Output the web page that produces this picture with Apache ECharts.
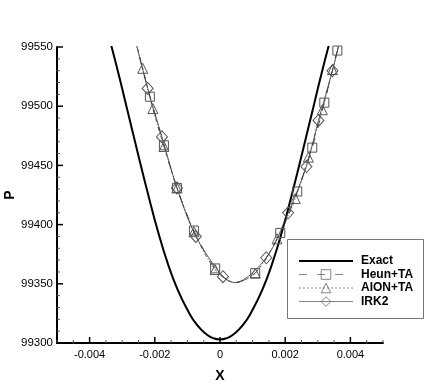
<!DOCTYPE html>
<html>
<head>
<meta charset="utf-8">
<script src="https://cdn.jsdelivr.net/npm/echarts@6/dist/echarts.min.js"></script>
<style>
  html, body { margin: 0; padding: 0; background: #fff; }
  #chart { width: 436px; height: 388px; }
</style>
</head>
<body>
<div id="chart"></div>
<script>
// exact solution
const exactX = [-0.0034, -0.0031, -0.0028, -0.0025, -0.0022, -0.0019, -0.0016, -0.0013, -0.0010, -0.0007, -0.0004, -0.0002, 0,
  0.0002, 0.0004, 0.0007, 0.0010, 0.0013, 0.0016, 0.0019, 0.0022, 0.0025, 0.0028, 0.0031, 0.0034];
const exactP = [99558, 99526, 99492, 99458, 99425, 99394, 99367, 99345, 99328, 99315, 99307, 99304, 99303,
  99304, 99307, 99315, 99328, 99345, 99367, 99394, 99425, 99458, 99492, 99526, 99558];

// Heun+TA (squares)
const heunX = [-0.00215, -0.00172, -0.00132, -0.0008, -0.00015, 0.00108, 0.00185, 0.00237, 0.00283, 0.0032, 0.0036];
const heunP = [99508, 99467, 99431, 99395, 99363, 99359, 99393, 99428, 99465, 99503, 99547];

// AION+TA (triangles)
const aionX = [-0.00237, -0.00206, -0.00172, -0.00132, -0.0008, -0.00015, 0.00108, 0.00175, 0.00231, 0.00271, 0.00314, 0.00345];
const aionP = [99532, 99498, 99466, 99431, 99394, 99362, 99359, 99388, 99422, 99457, 99497, 99531];

// IRK2 (diamonds)
const irkX = [-0.00222, -0.00178, -0.00132, -0.00074, 0.00009, 0.00142, 0.00209, 0.00265, 0.00302, 0.00345];
const irkP = [99515, 99474, 99431, 99390, 99356, 99372, 99410, 99449, 99488, 99530];

// points of the numerical curves without a marker (ends + bottom)
const curveX = [-0.0026, 0.00045, 0.0037];
const curveP = [99556, 99351, 99558];

// axis ticks
const xTicks = [-0.004, -0.002, 0, 0.002, 0.004];
const yTicks = [99300, 99350, 99400, 99450, 99500, 99550];
const xMin = -0.005, xMax = 0.005, yMin = 99300, yMax = 99550;

function numData(xs, ps) {
  const pts = xs.map((x, i) => ({ value: [x, ps[i]] }));
  curveX.forEach((x, i) => pts.push({ value: [x, curveP[i]], symbol: 'none' }));
  pts.sort((a, b) => a.value[0] - b.value[0]);
  return pts;
}

// tick marks drawn inward: [x, y, length, vertical?]
const tickData = [];
for (let i = 0; i <= 20; i++) {
  const x = +(xMin + i * 0.0005).toFixed(4);
  tickData.push([x, yMin, xTicks.includes(x) ? 6 : 3, 1]);
}
for (let i = 0; i <= 25; i++) {
  const y = yMin + i * 10;
  tickData.push([xMin, y, yTicks.includes(y) ? 6 : 3, 0]);
}

const font = 'Liberation Sans';
const markStyle = { color: 'rgba(0,0,0,0)', borderColor: '#555', borderWidth: 1 };
const legendMark = { color: 'rgba(0,0,0,0)', borderColor: '#666', borderWidth: 0.8 };
const thin = { color: '#333', width: 0.8 };

const chart = echarts.init(document.getElementById('chart'));
chart.setOption({
  animation: false,
  grid: { left: 57, right: 53, top: 47, bottom: 45 },
  xAxis: {
    type: 'value',
    min: xMin,
    max: xMax,
    splitLine: { show: false },
    axisLine: { show: true, onZero: false, lineStyle: { color: '#000', width: 2 } },
    axisTick: { show: false },
    axisLabel: {
      customValues: xTicks,
      margin: 6,
      color: '#000',
      fontFamily: font,
      fontSize: 11,
      formatter: v => v === 0 ? '0' : v.toFixed(3)
    }
  },
  yAxis: {
    type: 'value',
    min: yMin,
    max: yMax,
    interval: 50,
    splitLine: { show: false },
    axisLine: { show: true, onZero: false, lineStyle: { color: '#000', width: 2 } },
    axisTick: { show: false },
    axisLabel: { margin: 4, color: '#000', fontFamily: font, fontSize: 11.5, formatter: v => String(v) }
  },
  legend: {
    orient: 'vertical',
    left: 298,
    top: 255,
    padding: 0,
    itemWidth: 54,
    itemHeight: 12,
    itemGap: 1.5,
    selectedMode: false,
    textStyle: { fontFamily: font, fontSize: 12, fontWeight: 'bold', color: '#000', padding: [0, 0, 0, 3] },
    data: [
      { name: 'Exact', itemStyle: { color: 'rgba(0,0,0,0)', borderColor: 'rgba(0,0,0,0)', borderWidth: 0 },
        lineStyle: { color: '#000', width: 2 } },
      { name: 'Heun+TA', itemStyle: legendMark, lineStyle: { color: '#666', width: 0.8, type: [8, 10] } },
      { name: 'AION+TA', itemStyle: legendMark, lineStyle: { color: '#666', width: 0.8, type: [2, 2] } },
      { name: 'IRK2', itemStyle: legendMark, lineStyle: { color: '#666', width: 0.8 } }
    ]
  },
  graphic: [
    { type: 'rect', z: 3, shape: { x: 287.5, y: 239.5, width: 136, height: 79 },
      style: { fill: '#fff', stroke: '#777', lineWidth: 1 } },
    { type: 'text', x: 220, y: 376, style: { text: 'X', font: 'bold 14px ' + font, fill: '#000', textAlign: 'center', textVerticalAlign: 'middle' } },
    { type: 'text', x: 10, y: 195, rotation: Math.PI / 2, style: { text: 'P', font: 'bold 14px ' + font, fill: '#000', textAlign: 'center', textVerticalAlign: 'middle' } }
  ],
  series: [
    {
      name: 'Exact',
      type: 'line',
      smooth: true,
      symbol: 'none',
      color: '#000',
      lineStyle: { color: '#000', width: 2 },
      emphasis: { disabled: true },
      data: exactX.map((x, i) => [x, exactP[i]])
    },
    {
      name: 'Heun+TA',
      type: 'line',
      smooth: 0.3,
      symbol: 'rect',
      symbolSize: 9,
      itemStyle: markStyle,
      lineStyle: Object.assign({ type: [8, 10] }, thin),
      emphasis: { disabled: true },
      data: numData(heunX, heunP)
    },
    {
      name: 'AION+TA',
      type: 'line',
      smooth: 0.3,
      symbol: 'triangle',
      symbolSize: 10,
      itemStyle: markStyle,
      lineStyle: Object.assign({ type: [4, 2, 1, 2] }, thin),
      emphasis: { disabled: true },
      data: numData(aionX, aionP)
    },
    {
      name: 'IRK2',
      type: 'line',
      smooth: 0.3,
      symbol: 'diamond',
      symbolSize: [11, 12],
      itemStyle: markStyle,
      lineStyle: thin,
      emphasis: { disabled: true },
      data: numData(irkX, irkP)
    },
    {
      // inward axis ticks
      type: 'custom',
      silent: true,
      z: 5,
      clip: false,
      data: tickData,
      renderItem: (params, api) => {
        const p = api.coord([api.value(0), api.value(1)]);
        const len = api.value(2);
        const vert = api.value(3) === 1;
        const major = len > 3;
        return {
          type: 'line',
          shape: vert
            ? { x1: p[0], y1: p[1], x2: p[0], y2: p[1] - len }
            : { x1: p[0], y1: p[1], x2: p[0] + len, y2: p[1] },
          style: { stroke: major ? '#000' : '#555', lineWidth: major ? 1.5 : 1 }
        };
      }
    }
  ]
});
</script>
</body>
</html>
